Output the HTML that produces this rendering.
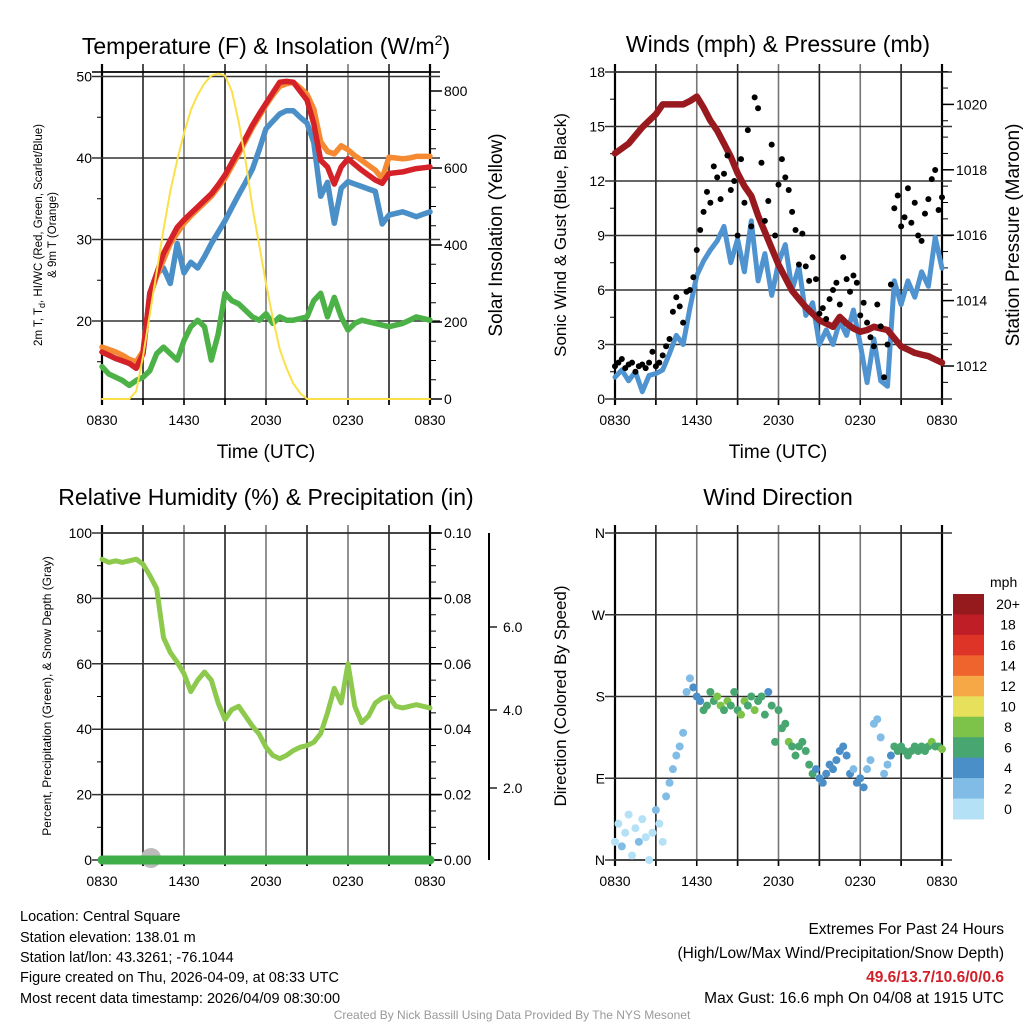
<!DOCTYPE html>
<html><head><meta charset="utf-8"><style>
html,body{margin:0;padding:0;background:#fff;width:1024px;height:1024px;overflow:hidden}
svg text{font-family:"Liberation Sans",Arial,sans-serif;fill:#000}
</style></head><body>
<svg id="s" width="1024" height="1024" viewBox="0 0 1024 1024" xmlns="http://www.w3.org/2000/svg">
<text x="266" y="54" font-size="23" text-anchor="middle">Temperature (F) &amp; Insolation (W/m<tspan dy="-9" font-size="14">2</tspan><tspan dy="9">)</tspan></text>
<text x="778" y="52" font-size="23" text-anchor="middle">Winds (mph) &amp; Pressure (mb)</text>
<text x="266" y="505" font-size="23" text-anchor="middle">Relative Humidity (%) &amp; Precipitation (in)</text>
<text x="778" y="505" font-size="23" text-anchor="middle">Wind Direction</text>
<text x="266" y="458" font-size="19" text-anchor="middle">Time (UTC)</text>
<text x="778" y="458" font-size="19" text-anchor="middle">Time (UTC)</text>
<text transform="translate(42,235) rotate(-90)" font-size="11.5" text-anchor="middle">2m T, T<tspan font-size="9" dy="3">d</tspan><tspan dy="-3">, HI/WC (Red, Green, Scarlet/Blue)</tspan></text>
<text transform="translate(56,235) rotate(-90)" font-size="11.5" text-anchor="middle">&amp; 9m T (Orange)</text>
<text transform="translate(502,235) rotate(-90)" font-size="19" text-anchor="middle">Solar Insolation (Yellow)</text>
<text transform="translate(566,235) rotate(-90)" font-size="17" text-anchor="middle">Sonic Wind &amp; Gust (Blue, Black)</text>
<text transform="translate(1019,235) rotate(-90)" font-size="19" text-anchor="middle">Station Pressure (Maroon)</text>
<text transform="translate(51,696) rotate(-90)" font-size="12" text-anchor="middle">Percent, Precipitation (Green), &amp; Snow Depth (Gray)</text>
<text transform="translate(566,696) rotate(-90)" font-size="17" text-anchor="middle">Direction (Colored By Speed)</text>
<g font-size="14.5">
<text x="20" y="921">Location: Central Square</text>
<text x="20" y="942">Station elevation: 138.01 m</text>
<text x="20" y="962">Station lat/lon: 43.3261; -76.1044</text>
<text x="20" y="982">Figure created on Thu, 2026-04-09, at 08:33 UTC</text>
<text x="20" y="1003">Most recent data timestamp: 2026/04/09 08:30:00</text>
</g>
<g font-size="15.5" text-anchor="end">
<text x="1004" y="934">Extremes For Past 24 Hours</text>
<text x="1004" y="958">(High/Low/Max Wind/Precipitation/Snow Depth)</text>
<text x="1004" y="982" font-weight="bold" style="fill:#d0202a">49.6/13.7/10.6/0/0.6</text>
<text x="1004" y="1003">Max Gust: 16.6 mph On 04/08 at 1915 UTC</text>
</g>
<text x="512" y="1019" font-size="12" text-anchor="middle" style="fill:#999">Created By Nick Bassill Using Data Provided By The NYS Mesonet</text>
<text x="990" y="587" font-size="14">mph</text>
</svg>
<script>
// ---- data (half-hourly unless noted) ----
const xTickLabels=["0830","1430","2030","0230","0830"];
const tempRed=[16.2,15.8,15.4,15.1,14.8,14.2,16.0,23.4,25.8,28.3,29.9,31.5,32.4,33.2,34.0,34.8,35.6,36.7,37.9,39.4,40.9,42.4,44.0,45.4,46.7,48.0,49.3,49.4,49.3,48.2,47.1,44.2,39.7,38.9,36.8,38.9,39.9,39.2,38.5,37.9,37.3,36.9,38.1,38.2,38.3,38.5,38.7,38.8,38.9];
const temp9m=[16.8,16.5,16.2,15.8,15.3,15.0,16.3,23.0,25.5,27.5,29.5,30.8,32.0,32.9,33.7,34.5,35.3,36.4,37.5,39.0,40.5,42.1,43.7,45.1,46.5,47.7,48.8,49.1,49.3,48.6,47.8,46.0,42.0,40.8,40.5,41.5,41.0,40.3,39.7,39.1,38.5,37.5,40.1,40.0,39.9,40.0,40.2,40.2,40.2];
const tempHI=[16.2,15.8,15.4,15.1,14.8,14.2,16.0,23.4,25.8,26.5,24.6,29.5,25.9,27.2,26.5,27.9,29.5,30.9,32.3,33.9,35.5,37.0,38.6,41.0,43.6,44.5,45.4,45.8,45.8,45.0,44.3,41.9,35.3,37.0,32.0,36.3,37.1,36.8,36.5,36.2,35.9,31.9,33.0,33.2,33.4,33.1,32.8,33.1,33.4];
const dewpoint=[14.4,13.5,13.1,12.7,12.1,12.7,13.1,13.9,16.0,16.8,16.0,15.2,17.6,19.3,20.1,19.3,15.2,18.4,23.4,22.5,22.1,21.3,20.5,20.1,20.9,19.7,20.5,20.1,20.1,20.3,20.5,22.5,23.4,20.5,22.9,20.5,18.9,19.7,20.1,19.9,19.7,19.5,19.3,19.5,19.7,20.1,20.5,20.3,20.1];
const solar=[0,0,0,0,0,20,110,220,330,440,540,620,690,750,790,820,840,845,840,800,720,620,500,400,300,210,130,80,40,15,0,0,0,0,0,0,0,0,0,0,0,0,0,0,0,0,0,0,0];
const pressure=[1018.5,1018.65,1018.8,1019.05,1019.3,1019.5,1019.7,1020.0,1020.0,1020.0,1020.0,1020.1,1020.24,1019.9,1019.5,1019.2,1018.8,1018.4,1017.9,1017.5,1017.2,1016.6,1016.1,1015.6,1015.1,1014.7,1014.3,1014.05,1013.8,1013.6,1013.4,1013.3,1013.2,1013.5,1013.3,1013.15,1013.05,1013.1,1013.2,1013.15,1013.1,1012.85,1012.6,1012.5,1012.4,1012.35,1012.3,1012.2,1012.1];
const sonicWind=[1.2,1.6,1.0,1.5,0.4,1.3,1.4,1.6,2.5,3.5,3.0,5.0,6.8,7.6,8.2,8.7,9.5,7.5,8.8,7.0,9.8,6.5,8.0,5.7,7.5,8.5,6.0,7.3,4.6,5.3,3.0,3.8,3.0,4.3,3.5,4.9,3.0,0.9,3.3,1.0,0.7,6.5,5.2,6.5,5.6,7.0,6.2,8.9,7.2];
// gusts / wind direction / direction speed: 15-minute data
const gusts=[1.8,2.0,2.2,1.7,1.9,2.0,1.5,1.8,1.9,1.7,2.0,2.6,1.8,2.0,2.4,2.9,3.3,4.8,5.6,5.1,4.2,5.9,6.0,6.7,8.2,9.3,10.3,11.4,10.8,12.8,12.2,11.0,12.4,13.4,11.5,12.0,9.0,13.2,10.8,14.8,9.5,16.6,16.0,13.0,9.8,10.9,14.0,9.0,11.8,13.2,12.2,11.5,10.3,9.3,7.4,9.1,7.3,6.5,7.8,6.6,4.7,5.0,4.4,5.5,6.0,6.4,5.2,7.8,6.6,5.9,6.8,6.4,4.6,5.3,4.2,3.4,2.9,5.2,4.0,1.2,3.0,6.3,10.5,11.2,9.5,10.0,11.6,9.7,10.8,9.0,8.7,10.2,11.0,12.1,12.6,10.4,11.1];
const windDir=[20,40,15,30,50,5,35,20,45,25,0,30,55,40,20,70,85,100,115,125,140,185,200,190,180,175,165,170,185,175,180,170,165,175,170,185,165,160,175,170,180,165,175,180,160,185,170,130,165,145,150,130,125,115,125,130,120,105,95,100,90,85,95,105,100,110,120,125,115,95,100,85,90,80,100,110,150,155,135,95,105,115,125,120,125,120,115,120,125,120,125,120,125,130,125,125,122];
const dirSpeed=[1,1.5,2.5,1,1,0.5,1,2.5,1,1,0.3,1,2,1.5,1,2.5,2.5,2,2.5,2,3,3,2.5,4.5,5,4.5,6.5,7,6.5,7.5,8,9,7.5,8.5,7,6.5,7.5,9,8,7,6.5,8,7,7.5,6.5,5,7.5,7.5,6.5,7,7,8,6.5,7,6,6.5,6.5,6.5,6.5,5,4.5,4.5,5,4.5,4.5,4.5,4,4.5,4.5,5,3,5,4,4.5,3,3.5,2,2.5,3,3,2,4.5,6,6.5,7,6,6.5,7,7,7.5,7,7.5,7,8,7.5,7.5,8];
const humidity=[92,91,91.5,91,91.5,92,90.5,87,83,68,63.5,60.5,57,51.5,55,57.5,55,48,43,46,47,44,41,38.5,34.5,32,31,32,33.5,34.5,35,36,38.7,45,52.5,48,60,47,42,44,48,49.5,50,47,46.5,47,47.5,47,46.5];
const precip=new Array(49).fill(0);
const colorLevels=["0","2","4","6","8","10","12","14","16","18","20+"];
const colorFills=["#b4e1f6","#80bce5","#4a8fc7","#48a771","#7dc34a","#e6e05a","#f5a845","#ef632c","#de3428","#bf1e26","#941a1d"];

const S=document.getElementById('s');
const NS="http://www.w3.org/2000/svg";
function mk(tag,attrs,parent){const e=document.createElementNS(NS,tag);for(const k in attrs)e.setAttribute(k,attrs[k]);(parent||S).appendChild(e);return e;}
function txt(x,y,s,size,anchor,parent){const t=mk('text',{x:x,y:y,'font-size':size,'text-anchor':anchor},parent);t.textContent=s;return t;}

// axis functions
function xScale(x0,x1){return h=>x0+(x1-x0)*h/24;}
const P1={x0:102,x1:430,y0:72,y1:399};
const P2={x0:615,x1:942,y0:72,y1:399};
const P3={x0:102,x1:430,y0:533,y1:860};
const P4={x0:615,x1:942,y0:533,y1:860};
const tY=v=>321-(v-20)*8.15;
const sY=v=>399-v*0.385;
const wY=v=>399-v*18.17;
const pY=p=>366-(p-1012)*32.7;
const rY=v=>860-v*3.27;
const qY=v=>860-v*3270;
const dY=d=>860-d*327/360;

function frame(P,name){
  const g=mk('g',{});
  
  
  const X=xScale(P.x0,P.x1);
  for(let h=3;h<24;h+=3){
    const l=mk('line',{x1:X(h),x2:X(h),y1:P.y0-8,y2:P.y1+6,stroke:(h%6===0)?'#777':'#222','stroke-width':1.6},g);
    
    
  }
  for(let h=0;h<=24;h+=3){mk('line',{x1:X(h),x2:X(h),y1:P.y1,y2:P.y1+6,stroke:'#000','stroke-width':1.5},g);}
  xTickLabels.forEach((s,i)=>{const t=txt(X(i*6),P.y1+26,s,14,'middle',g);
    
    });
  mk('line',{x1:P.x0,x2:P.x0,y1:P.y0-8,y2:P.y1+6,stroke:'#000','stroke-width':2.2},g);
  mk('line',{x1:P.x1,x2:P.x1,y1:P.y0-8,y2:P.y1+6,stroke:'#000','stroke-width':2.2},g);
  mk('line',{x1:P.x0,x2:P.x1,y1:P.y0,y2:P.y0,stroke:'#000','stroke-width':1.6},g);
  mk('line',{x1:P.x0,x2:P.x1,y1:P.y1,y2:P.y1,stroke:'#000','stroke-width':1.6},g);
  return {g:g,X:X};
}
function hgrid(g,P,y,col){mk('line',{x1:P.x0-10,x2:P.x1+10,y1:y,y2:y,stroke:col||'#333','stroke-width':1.5},g);}
function leftTicks(g,P,vals,f,fmt,minors){
  minors.forEach(v=>mk('line',{x1:P.x0-5,x2:P.x0,y1:f(v),y2:f(v),stroke:'#000','stroke-width':1},g));
  vals.forEach(v=>{hgrid(g,P,f(v));const t=txt(P.x0-10,f(v)+5,fmt(v),14,'end',g);
    
    });
}
function rightTicks(g,P,vals,f,fmt,minors){
  minors.forEach(v=>mk('line',{x1:P.x1,x2:P.x1+6,y1:f(v),y2:f(v),stroke:'#000','stroke-width':1},g));
  vals.forEach(v=>{mk('line',{x1:P.x1,x2:P.x1+12,y1:f(v),y2:f(v),stroke:'#000','stroke-width':1.5},g);
    const t=txt(P.x1+14,f(v)+5,fmt(v),14,'start',g);
    
    });
}
function range(a,b,s){const r=[];for(let v=a;v<=b+1e-9;v+=s)r.push(+v.toFixed(4));return r;}
function line(arr,X,Y,step,color,w,name,opacity){
  const d=arr.map((v,i)=>(i?'L':'M')+X(i*step).toFixed(1)+','+Y(v).toFixed(1)).join('');
  const p=mk('path',{d:d,fill:'none',stroke:color,'stroke-width':w,'stroke-linejoin':'round','stroke-linecap':'round','stroke-opacity':opacity||1});
  
  
  return p;
}

// Panel 1
let F=frame(P1,'temperature');
leftTicks(F.g,P1,[20,30,40,50],tY,v=>String(v),range(15,50,5));
hgrid(F.g,P1,P1.y0,'#000');
rightTicks(F.g,P1,[0,200,400,600,800],sY,v=>String(v),range(50,800,50));
line(tempHI,F.X,tY,0.5,'#4a8fc7',5.5,'hi-wc-line');
line(temp9m,F.X,tY,0.5,'#f58a33',5.5,'9m-temp-line');
line(tempRed,F.X,tY,0.5,'#d42228',5.5,'2m-temp-line');
line(dewpoint,F.X,tY,0.5,'#4cb247',5.5,'dewpoint-line');
line(solar,F.X,sY,0.5,'#fbe04a',2,'solar-insolation-line');

// Panel 2
F=frame(P2,'winds');
leftTicks(F.g,P2,[0,3,6,9,12,15,18],wY,v=>String(v),range(0,18,1.5));
rightTicks(F.g,P2,[1012,1014,1016,1018,1020],pY,v=>String(v),range(1011.5,1021,0.5));
line(sonicWind,F.X,wY,0.5,'#4f94d0',5,'sonic-wind-line');
line(pressure,F.X,pY,0.5,'#981a1e',6.5,'pressure-line');
gusts.forEach((v,i)=>{const c=mk('circle',{cx:F.X(i*0.25),cy:wY(v),r:3,fill:'#000'});
  
  });

// Panel 3
F=frame(P3,'humidity');
leftTicks(F.g,P3,[0,20,40,60,80,100],rY,v=>String(v),range(0,100,10));
rightTicks(F.g,P3,[0,0.02,0.04,0.06,0.08,0.10],qY,v=>v.toFixed(2),range(0,0.1,0.005));
const snowAx=mk('line',{x1:489,x2:489,y1:P3.y0,y2:P3.y1,stroke:'#000','stroke-width':2});


[[2.0,788],[4.0,710],[6.0,627]].forEach(a=>{mk('line',{x1:489,x2:497,y1:a[1],y2:a[1],stroke:'#000','stroke-width':1.3});
  const t=txt(503,a[1]+5,a[0].toFixed(1),14,'start');
  
  });
const snow=mk('circle',{cx:151,cy:858,r:10,fill:'#bbb'});


line(precip,F.X,qY,0.5,'#3fae49',9,'precip-line');
line(humidity,F.X,rY,0.5,'#8dc94c',5,'humidity-line');

// Panel 4
F=frame(P4,'direction');
leftTicks(F.g,P4,[0,90,180,270,360],dY,v=>({0:'N',90:'E',180:'S',270:'W',360:'N'})[v],[]);
rightTicks(F.g,P4,[],dY,v=>'',[]);
const binColor=s=>colorFills[Math.min(10,Math.floor(s/2))];
windDir.forEach((d,i)=>{const c=mk('circle',{cx:F.X(i*0.25),cy:dY(d),r:4,fill:binColor(dirSpeed[i])});
  
  });
// colorbar
const cb=mk('g',{});


const cbTop=594,cbH=225/11;
colorFills.forEach((c,i)=>{const k=10-i;
  mk('rect',{x:953,y:cbTop+i*cbH,width:31,height:cbH+0.5,fill:colorFills[k]},cb);
  const t=txt(1008,cbTop+i*cbH+cbH/2+5,colorLevels[k],14,'middle',cb);
  
  });
</script>
</body></html>
